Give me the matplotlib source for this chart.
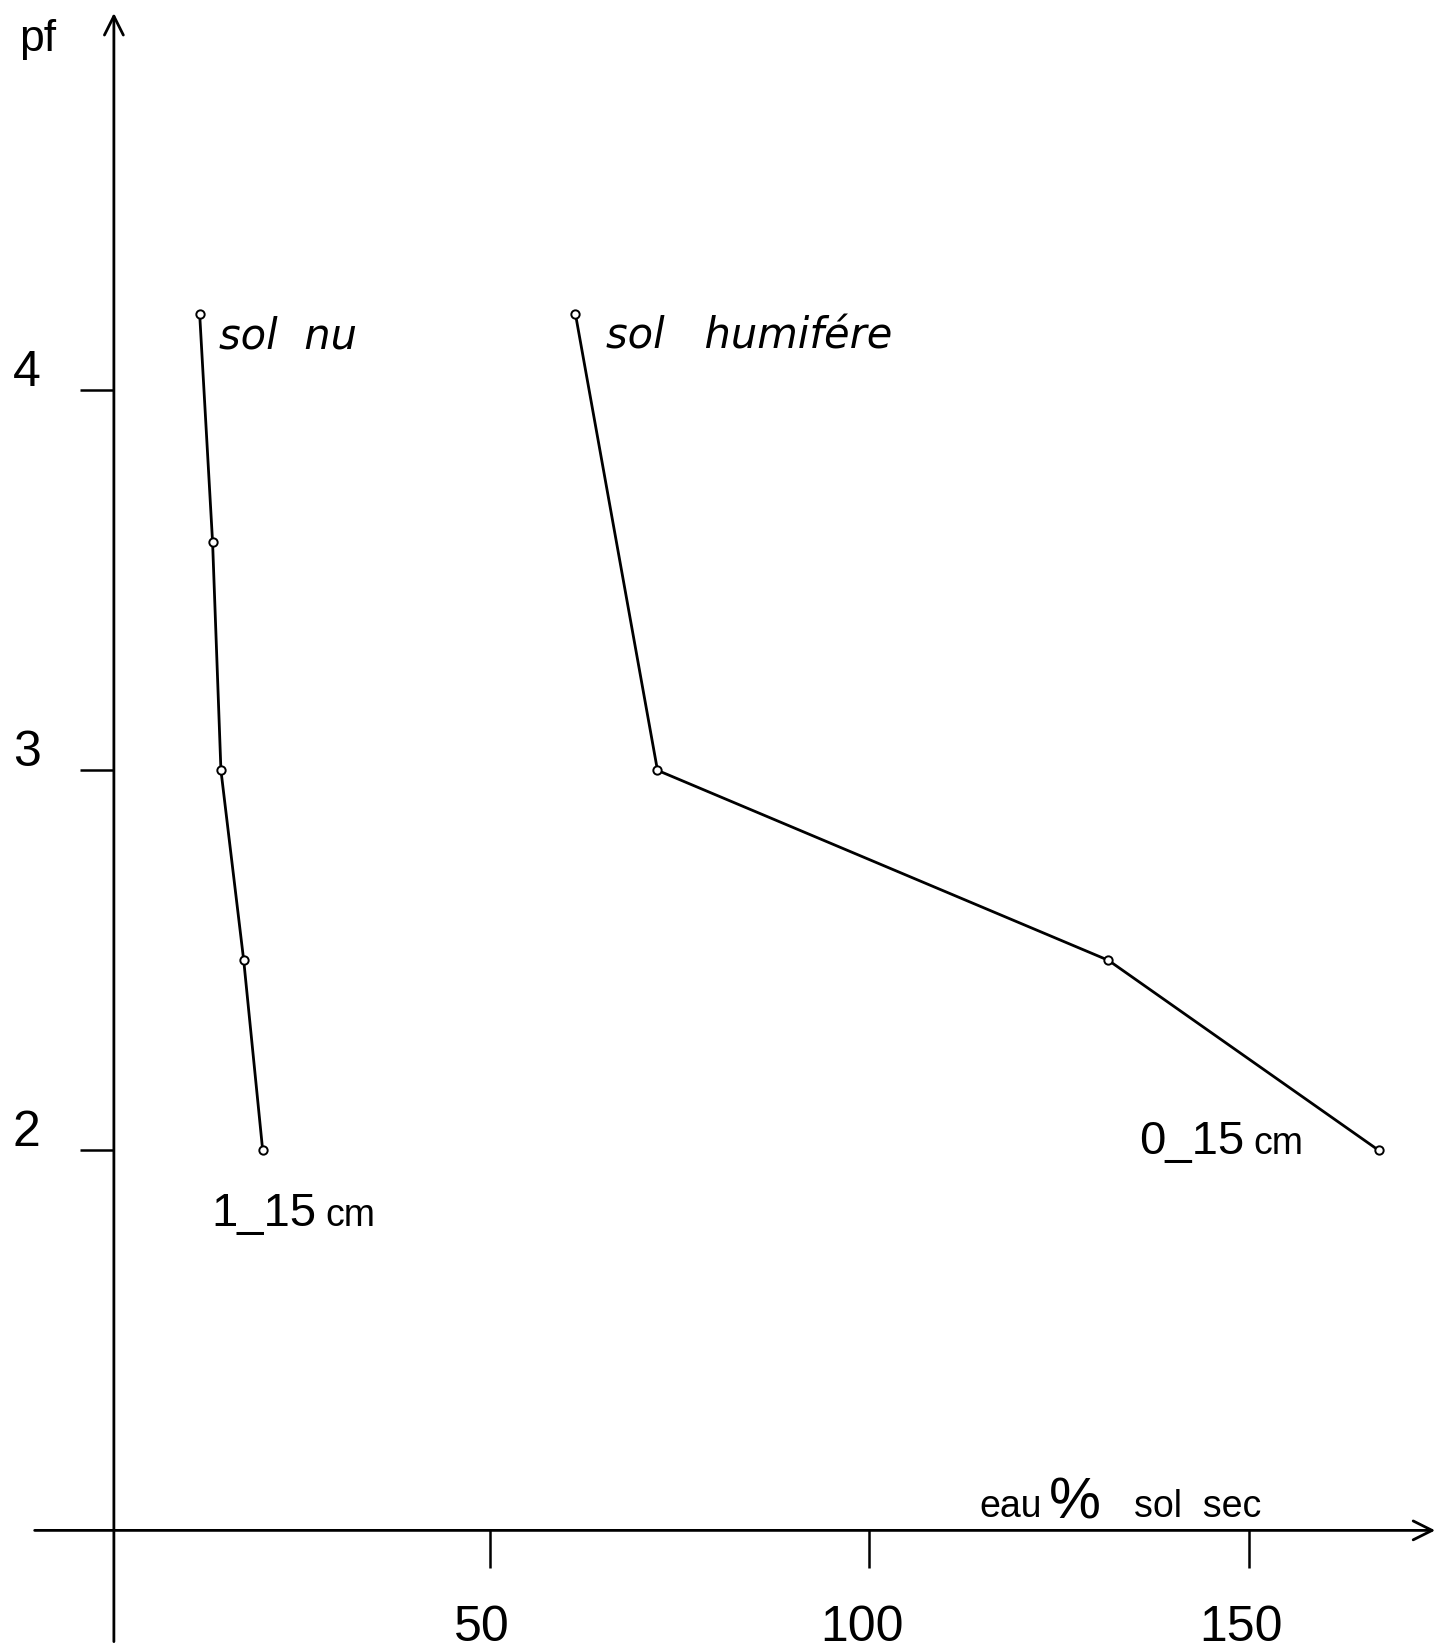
import matplotlib
matplotlib.use("Agg")
import matplotlib.pyplot as plt

# pF curves: water content (% of dry soil) against pF
nu_eau = [11.8, 13.5, 14.6, 17.6, 20.1]
nu_pf = [4.2, 3.6, 3.0, 2.5, 2.0]
hum_eau = [61.3, 72.1, 131.5, 167.1]
hum_pf = [4.2, 3.0, 2.5, 2.0]

x_ticks = [50, 100, 150]
x_labels = ["50", "100", "150"]
y_ticks = [2, 3, 4]
y_labels = ["2", "3", "4"]

upright = ["Liberation Sans", "DejaVu Sans"]

fig = plt.figure(figsize=(14.41, 16.52), dpi=100)
ax = fig.add_axes([0, 0, 1, 1])
ax.set_xlim(-14.5, 175.3)
ax.set_ylim(0.680, 5.027)
ax.axis("off")

# hand drawn axes with open arrow heads
x0 = 0.5
ax.annotate("", xy=(x0, 5.0), xytext=(x0, 0.70),
            arrowprops=dict(arrowstyle="->", lw=2.0, color="black", mutation_scale=34))
ax.annotate("", xy=(174.9, 1.0), xytext=(-10.3, 1.0),
            arrowprops=dict(arrowstyle="->", lw=2.0, color="black", mutation_scale=34))

ax.hlines(y_ticks, -4.0, x0, color="black", lw=1.8)
ax.vlines(x_ticks, 0.90, 1.0, color="black", lw=1.8)

for x, lab in zip(x_ticks, x_labels):
    ax.text(x - 1.0, 0.708, lab, ha="center", va="baseline", fontsize=36, family=upright)
for y, lab in zip(y_ticks, y_labels):
    ax.text(-11.0, y + 0.045, lab, ha="center", va="center", fontsize=36, family=upright)

ax.plot(nu_eau, nu_pf, color="black", lw=2.0, marker="o", ms=6,
        mfc="white", mec="black", mew=1.4)
ax.plot(hum_eau, hum_pf, color="black", lw=2.0, marker="o", ms=6,
        mfc="white", mec="black", mew=1.4)

ax.text(14.4, 4.11, "sol  nu", style="italic", fontsize=30, va="baseline")
ax.text(65.3, 4.11, "sol   humifére", style="italic", fontsize=30, va="baseline")

ax.text(13.3, 1.80, "1_15", fontsize=34, va="baseline", family=upright)
ax.text(28.4, 1.80, "cm", fontsize=27, va="baseline", family=upright)
ax.text(135.6, 1.99, "0_15", fontsize=34, va="baseline", family=upright)
ax.text(150.6, 1.99, "cm", fontsize=27, va="baseline", family=upright)

ax.text(-12.0, 4.894, "pf", fontsize=32, va="baseline", family=upright)
ax.text(114.5, 1.035, "eau", fontsize=27, va="baseline", family=upright)
ax.text(123.6, 1.07, "%", fontsize=42, ha="left", va="center", family=upright)
ax.text(134.9, 1.035, "sol  sec", fontsize=27, va="baseline", family=upright)

fig.savefig("out.png", dpi=100)
